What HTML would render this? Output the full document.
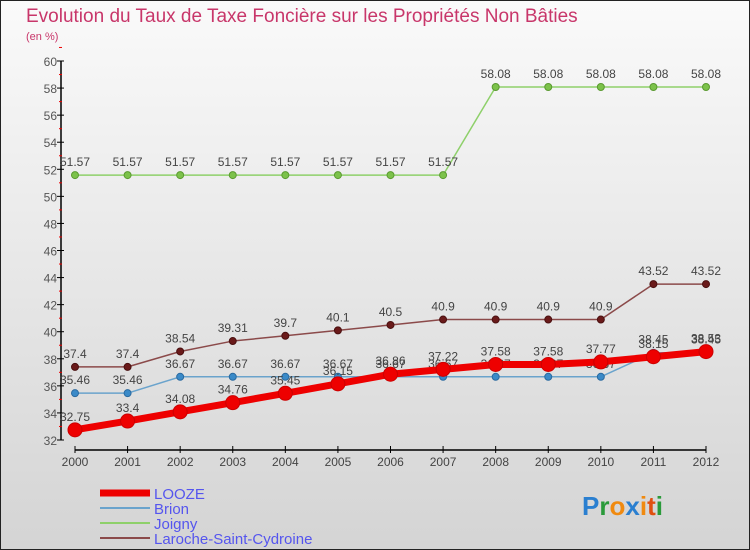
<!DOCTYPE html>
<html><head><meta charset="utf-8"><style>
body{margin:0}
svg{display:block;font-family:"Liberation Sans",sans-serif}
</style></head><body>
<svg width="750" height="550" viewBox="0 0 750 550">
<defs><linearGradient id="bg" x1="0" y1="0" x2="0" y2="1"><stop offset="0" stop-color="#fafafa"/><stop offset="1" stop-color="#d4d4d4"/></linearGradient></defs>
<rect x="0.5" y="0.5" width="749" height="549" fill="url(#bg)" stroke="#222"/>
<text x="26" y="22" font-size="19" fill="#c8366a">Evolution du Taux de Taxe Foncière sur les Propriétés Non Bâties</text>
<text x="26" y="40" font-size="11" fill="#c8366a">(en %)</text>
<g id="axes"></g>
<g id="series"></g>
<g id="legend">
<line x1="100" y1="493" x2="150" y2="493" stroke="#e00" stroke-width="7"/>
<text x="154" y="499" font-size="15" fill="#5555ee">LOOZE</text>
<line x1="100" y1="508" x2="150" y2="508" stroke="#6aa3cc" stroke-width="2"/>
<text x="154" y="514" font-size="15" fill="#5555ee">Brion</text>
<line x1="100" y1="523" x2="150" y2="523" stroke="#8ed06a" stroke-width="2"/>
<text x="154" y="529" font-size="15" fill="#5555ee">Joigny</text>
<line x1="100" y1="538" x2="150" y2="538" stroke="#8b4a4a" stroke-width="2"/>
<text x="154" y="544" font-size="15" fill="#5555ee">Laroche-Saint-Cydroine</text>
</g>
<text x="582" y="515" font-size="26" font-weight="bold"><tspan fill="#2a7fd0">P</tspan><tspan fill="#2a9a3a">r</tspan><tspan fill="#f08a10">o</tspan><tspan fill="#2a7fd0">x</tspan><tspan fill="#f08a10">i</tspan><tspan fill="#e05010">t</tspan><tspan fill="#2a9a3a">i</tspan></text>
</svg>
<script>
const years=["2000","2001","2002","2003","2004","2005","2006","2007","2008","2009","2010","2011","2012"];
const looze=[32.75,33.4,34.08,34.76,35.45,36.15,36.86,37.22,37.58,37.58,37.77,38.15,38.53];
const brion=[35.46,35.46,36.67,36.67,36.67,36.67,36.67,36.67,36.67,36.67,36.67,38.45,38.45];
const joigny=[51.57,51.57,51.57,51.57,51.57,51.57,51.57,51.57,58.08,58.08,58.08,58.08,58.08];
const laroche=[37.4,37.4,38.54,39.31,39.7,40.1,40.5,40.9,40.9,40.9,40.9,43.52,43.52];
const yTicks=[32,34,36,38,40,42,44,46,48,50,52,54,56,58,60];
const NS="http://www.w3.org/2000/svg";
const X=i=>75+i*(706-75)/(years.length-1);
const Y=v=>440-(v-32)*(440-61)/28;
function mk(tag,attrs,parent){const e=document.createElementNS(NS,tag);for(const k in attrs)e.setAttribute(k,attrs[k]);parent.appendChild(e);return e;}
const ax=document.getElementById('axes');
let l=mk('line',{x1:61,y1:Y(60),x2:61,y2:Y(32),stroke:'#000','stroke-width':1.5},ax);


yTicks.forEach(t=>{
 mk('line',{x1:57,y1:Y(t),x2:64,y2:Y(t),stroke:'#000'},ax);
 mk('line',{x1:59,y1:Y(t+1),x2:62,y2:Y(t+1),stroke:'#e00'},ax);
 const tx=mk('text',{x:57,y:Y(t)+5,'font-size':12,fill:'#555','text-anchor':'end'},ax);
 tx.textContent=t;
 
 
});
l=mk('line',{x1:75,y1:450,x2:706,y2:450,stroke:'#000','stroke-width':1.5},ax);


years.forEach((y,i)=>{
 mk('line',{x1:X(i),y1:446,x2:X(i),y2:453,stroke:'#000'},ax);
 const tx=mk('text',{x:X(i),y:466,'font-size':12,fill:'#444','text-anchor':'middle'},ax);
 tx.textContent=y;
 
 
});
const sg=document.getElementById('series');
function series(name,data,color,w,r,dot,dotStroke){
 const g=mk('g',{},sg);
 
 
 const pl=mk('polyline',{points:data.map((v,i)=>X(i)+','+Y(v)).join(' '),fill:'none',stroke:color,'stroke-width':w,'stroke-linejoin':'round'},g);
 
 
 data.forEach((v,i)=>{
  const c=mk('circle',{cx:X(i),cy:Y(v),r:r,fill:dot,stroke:dotStroke,'stroke-width':1},g);
  
  
  const t=mk('text',{x:X(i),y:Y(v)-9,'font-size':12,fill:'#444','text-anchor':'middle'},g);
  t.textContent=v;
  
  
 });
}
series('joigny',joigny,'#8ed06a',1.5,3.5,'#7cc24a','#5a9a30');
series('laroche',laroche,'#8b4a4a',1.5,3.5,'#6a1a1a','#4a1010');
series('brion',brion,'#6aa3cc',1.5,3.5,'#3a8ac8','#2a6aa0');
series('looze',looze,'#e00',7,7,'#e00','#c00');
</script>
</body></html>
